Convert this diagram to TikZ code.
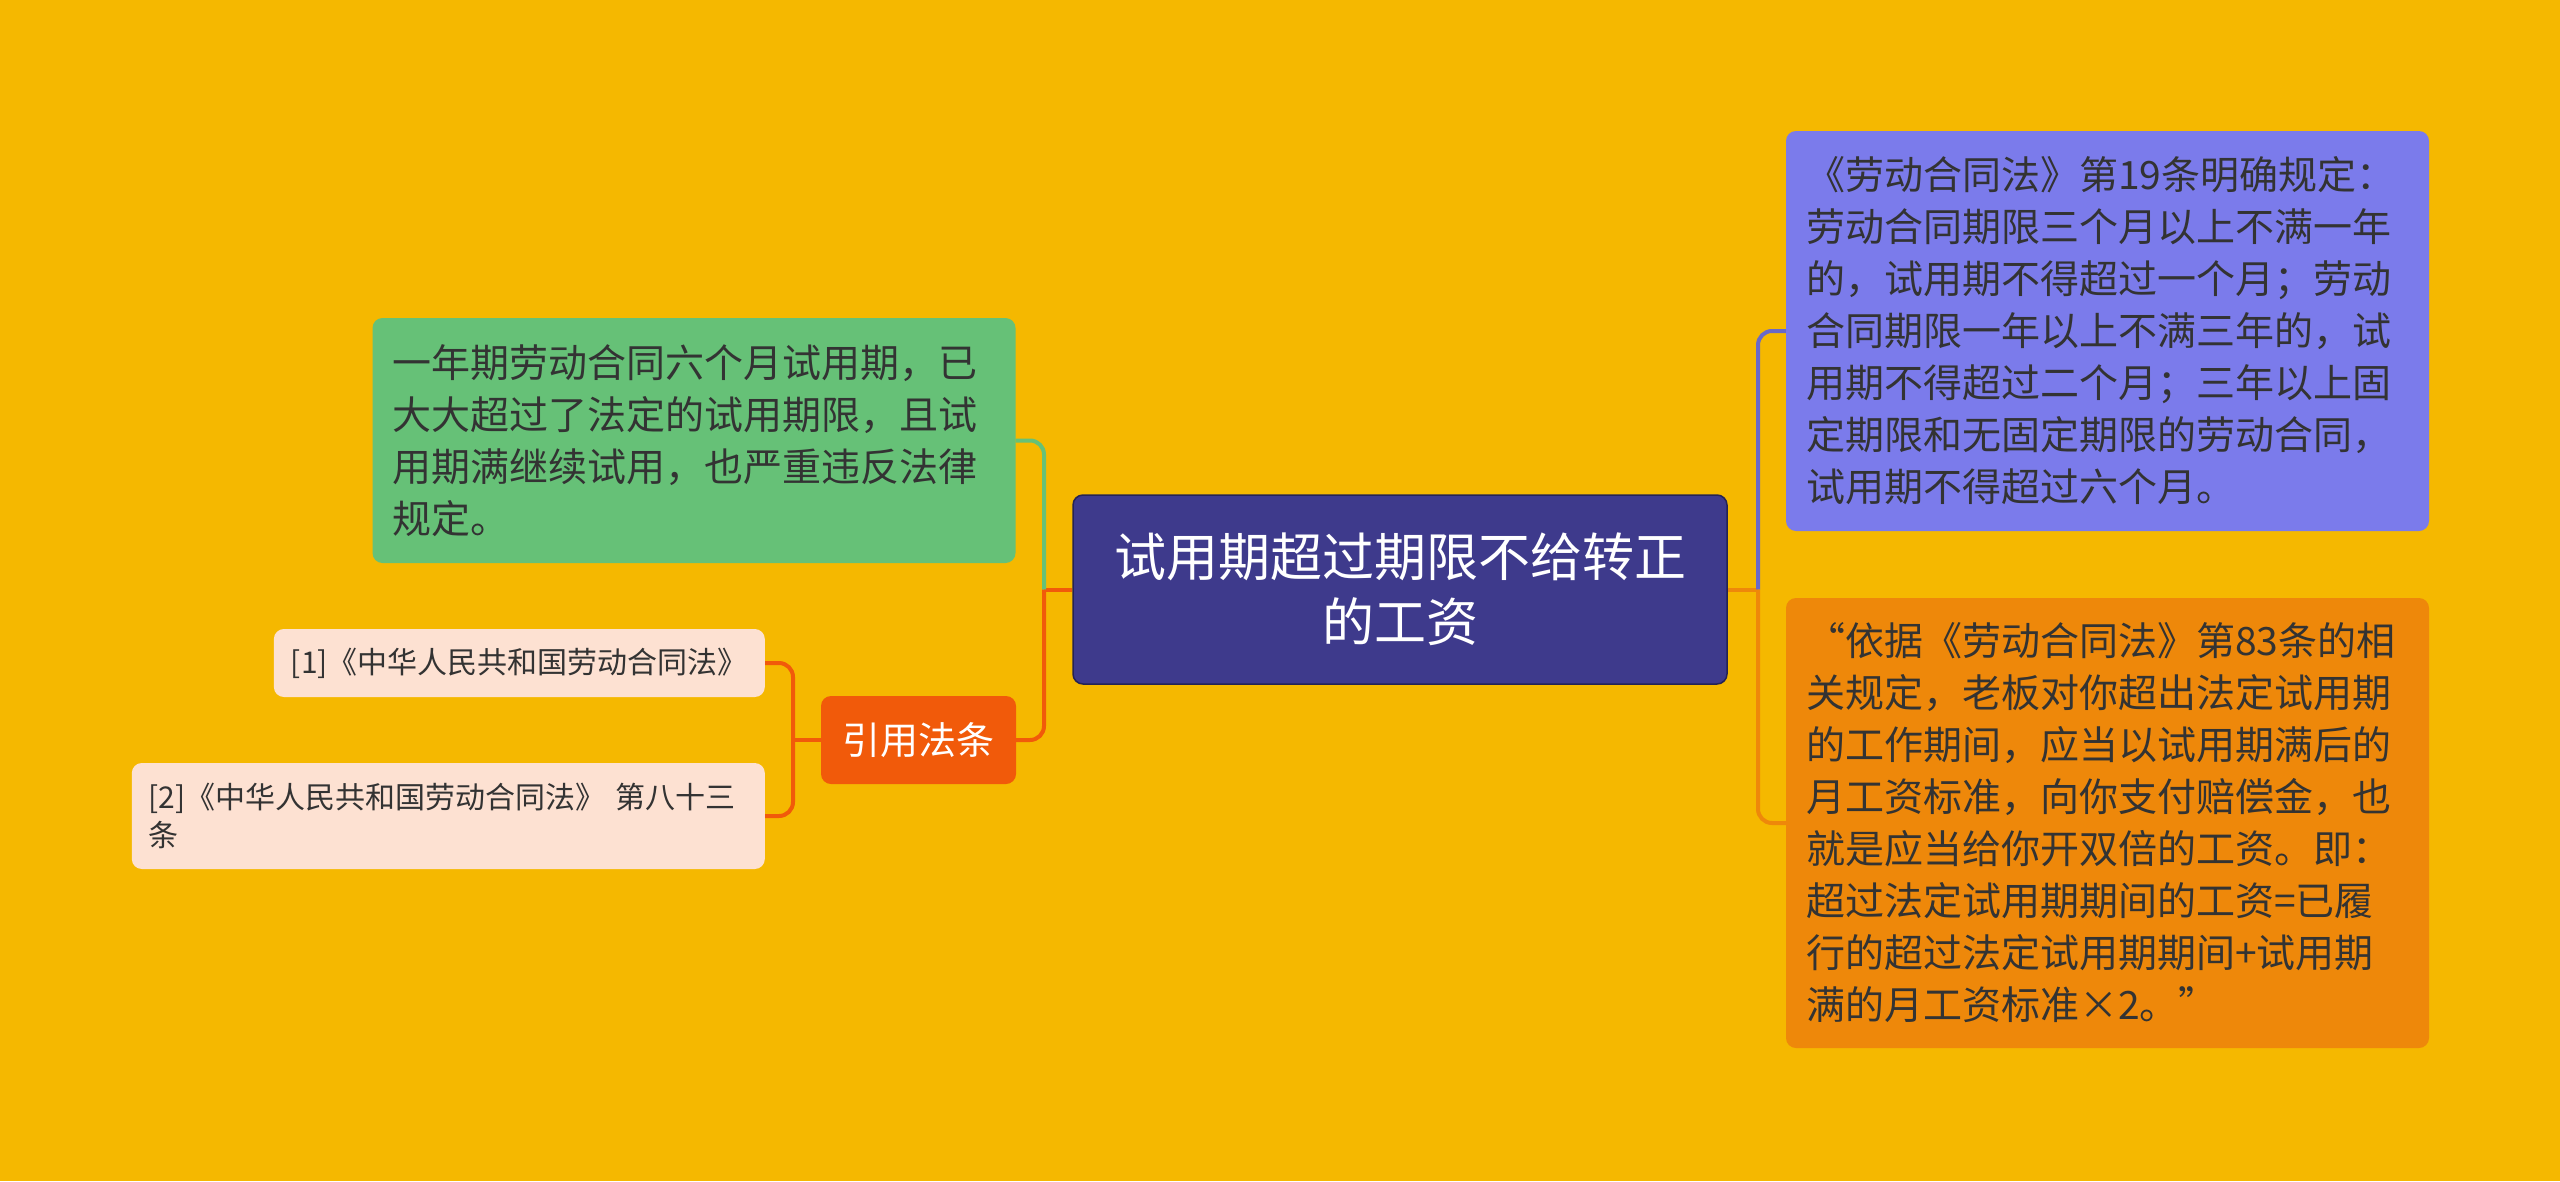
\documentclass[tikz,border=0pt]{standalone}
\usepackage{fontspec}
\setmainfont{Noto Sans CJK SC}
\usepackage{xcolor}
\usetikzlibrary{positioning}
\definecolor{Canvas}{HTML}{F5B800}
\definecolor{Indigo}{HTML}{3E3A8C}
\definecolor{Leaf}{HTML}{66C177}
\definecolor{Flame}{HTML}{F15A0A}
\definecolor{Peach}{HTML}{FDE1D2}
\definecolor{Lilac}{HTML}{7B7BEB}
\definecolor{Amber}{HTML}{EE880A}
\definecolor{Ink}{HTML}{333333}

\begin{document}
\begin{tikzpicture}[x=1pt,y=-1pt,
  rootbox/.style={rounded corners=10pt,draw=Indigo!60!black,line width=1.5pt,fill=Indigo,text=white,minimum width=654pt,minimum height=189pt,align=center,font=\fontsize{52}{65}\selectfont},
  leafbox/.style={rounded corners=10pt,fill=#1,text=Ink,inner xsep=20pt,text width=603pt,align=left,font=\fontsize{39}{52}\selectfont},
  citebox/.style={rounded corners=10pt,fill=Flame,text=white,minimum width=195pt,minimum height=88pt,align=center,font=\fontsize{38}{48}\selectfont},
  refbox/.style={rounded corners=10pt,fill=Peach,text=Ink,inner xsep=17pt,align=left,font=\fontsize{30}{37.5}\selectfont},
  link/.style={line width=4pt,rounded corners=14pt}
]
\useasboundingbox (0,0) rectangle (2560,1181);
\fill[Canvas] (0,0) rectangle (2560,1181);
\node[rootbox] (root) at (1400,589.5) {试用期超过期限不给转正\\的工资};
\node[leafbox=Leaf,minimum height=245pt] (green) at (694,440.5) {一年期劳动合同六个月试用期，已\\大大超过了法定的试用期限，且试\\用期满继续试用，也严重违反法律\\规定。};
\node[citebox] (cite) at (918.5,740) {引用法条};
\node[refbox,minimum height=68pt,anchor=east] (ref1) at (765,663) {[1]《中华人民共和国劳动合同法》};
\node[refbox,minimum height=106pt,text width=599pt,anchor=east] (ref2) at (765,816) {[2]《中华人民共和国劳动合同法》~第八十三\\条};
\node[leafbox=Lilac,minimum height=400pt] (rule) at (2107.5,331) {《劳动合同法》第19条明确规定：\\劳动合同期限三个月以上不满一年\\的，试用期不得超过一个月；劳动\\合同期限一年以上不满三年的，试\\用期不得超过二个月；三年以上固\\定期限和无固定期限的劳动合同，\\试用期不得超过六个月。};
\node[leafbox=Amber,minimum height=450pt] (pay) at (2107.5,823) {“依据《劳动合同法》第83条的相\\关规定，老板对你超出法定试用期\\的工作期间，应当以试用期满后的\\月工资标准，向你支付赔偿金，也\\就是应当给你开双倍的工资。即：\\超过法定试用期期间的工资=已履\\行的超过法定试用期期间+试用期\\满的月工资标准×2。”};
\coordinate (lj) at (1044,589.5);
\coordinate (cj) at (793,740);
\coordinate (rj) at (1758,589.5);
\draw[link,draw=Flame] (root.west) -- (lj);
\draw[link,draw=Leaf] (lj) |- (green.east);
\draw[link,draw=Flame] (lj) |- (cite.east);
\draw[link,draw=Flame] (cite.west) -- (cj);
\draw[link,draw=Flame] (cj) |- (ref1.east);
\draw[link,draw=Flame] (cj) |- (ref2.east);
\draw[link,draw=Amber] (root.east) -- (rj);
\draw[link,draw=Lilac!85!black] (rj) |- (rule.west);
\draw[link,draw=Amber] (rj) |- (pay.west);
\end{tikzpicture}
\end{document}
